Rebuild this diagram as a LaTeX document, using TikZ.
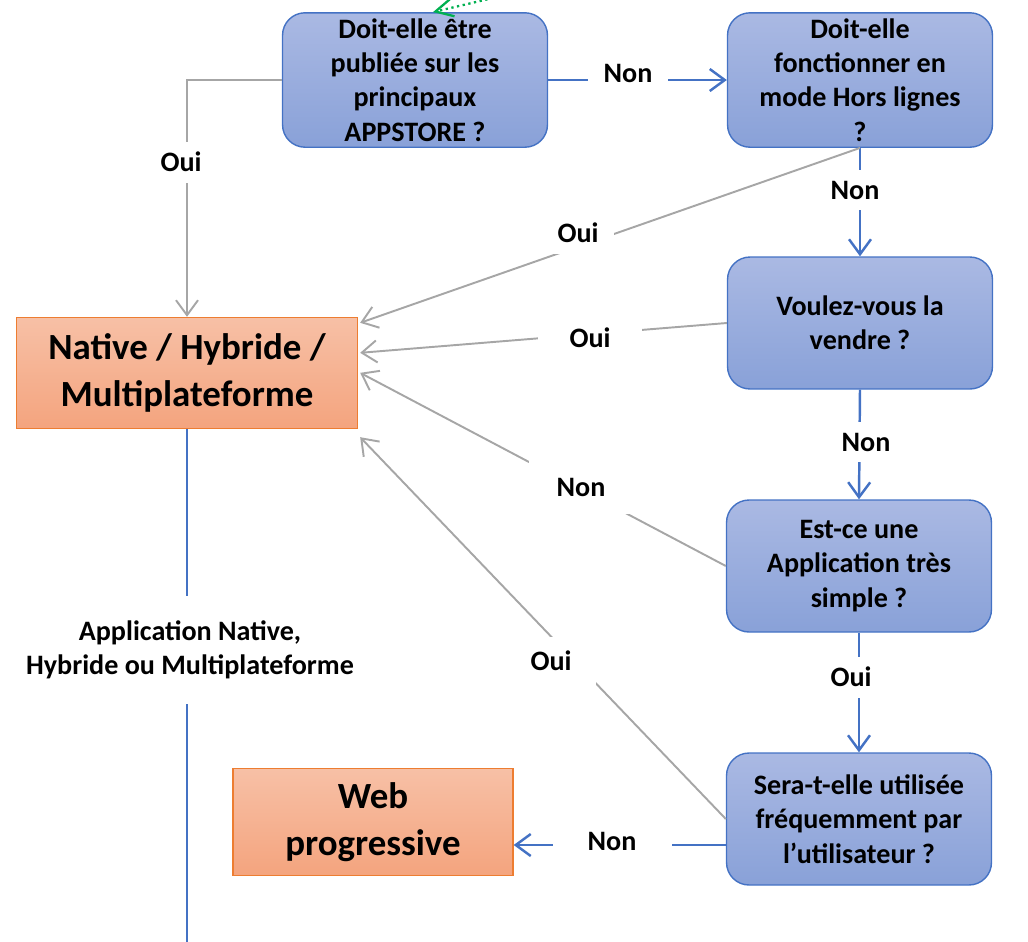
\documentclass[tikz,border=0pt]{standalone}
\usepackage{fontspec}
\setmainfont{Carlito}
\usepackage{tikz}
\usetikzlibrary{arrows.meta,calc}
\definecolor{questiontop}{RGB}{170,185,227}
\definecolor{questionbottom}{RGB}{137,161,216}
\definecolor{questionedge}{RGB}{68,114,196}
\definecolor{answertop}{RGB}{247,192,166}
\definecolor{answerbottom}{RGB}{244,164,126}
\definecolor{answeredge}{RGB}{237,125,49}
\definecolor{linkblue}{RGB}{68,114,196}
\definecolor{linkgray}{RGB}{166,166,166}
\definecolor{hintgreen}{RGB}{0,176,80}
\newcommand\boxfont{\fontsize{16}{19.5}\selectfont\bfseries}
\newcommand\bigfont{\fontsize{21}{26.5}\selectfont\bfseries}

\begin{document}
\begin{tikzpicture}[x=0.02cm, y=-0.02cm, >={Straight Barb[length=3mm,width=4.4mm]},
    question/.style={draw=questionedge, line width=0.8pt, rounded corners=0.45cm,
        top color=questiontop, bottom color=questionbottom,
        minimum width=5.3cm, minimum height=2.64cm, align=center, font=\boxfont},
    answer/.style={draw=answeredge, line width=0.8pt,
        top color=answertop, bottom color=answerbottom, align=center, font=\bigfont},
    bluelink/.style={draw=linkblue, line width=1.4pt},
    graylink/.style={draw=linkgray, line width=1.1pt},
    lbl/.style={fill=white, font=\boxfont, inner xsep=9pt, inner ysep=6pt}]
    % Frame
    \useasboundingbox (0,0) rectangle (1028,941);
    \clip (0,0) rectangle (1028,941);

    % Questions
    \node[question] (qstore) at (415,80) {Doit-elle être\\publiée sur les\\principaux\\APPSTORE ?};
    \node[question] (qoffline) at (860,80) {Doit-elle\\fonctionner en\\mode Hors lignes\\?};
    \node[question] (qsell) at (860,323) {Voulez-vous la\\vendre ?};
    \node[question] (qsimple) at (859,566) {Est-ce une\\Application très\\simple ?};
    \node[question] (qfreq) at (859,819) {Sera-t-elle utilisée\\fréquemment par\\l’utilisateur ?};

    % Answers
    \node[answer, minimum width=6.82cm, minimum height=2.22cm] (nat) at (187,373) {Native / Hybride /\\Multiplateforme};
    \node[answer, minimum width=5.6cm, minimum height=2.14cm] (web) at (373,822) {Web\\progressive};

    % Free ends
    \coordinate (greenstart) at (510,-6);
    \coordinate (bottomend) at (nat.south |- 0,950);
    \coordinate (efrom) at ($(qfreq.west)+(0,26)$);

    % Blue links
    \draw[bluelink,->] (qstore.east) -- (qoffline.west);
    \draw[bluelink,->] (qoffline.south) -- (qsell.north);
    \draw[bluelink,->] (qsell.south) -- (qsimple.north);
    \draw[bluelink,->] (qsimple.south) -- (qfreq.north);
    \draw[bluelink,->] (efrom) -- (efrom -| web.east);
    \draw[bluelink] (nat.south) -- (bottomend);

    % Gray links
    \draw[graylink,->] (qstore.west) -| (nat.north);
    \draw[graylink,->] (qoffline.south) -- ($(nat.north east)+(2,6)$);
    \draw[graylink,->] (qsell.west) -- ($(nat.north east)+(2,36)$);
    \draw[graylink,->] (qsimple.west) -- ($(nat.north east)+(2,56)$);
    \draw[graylink,->] (qfreq.west) -- ($(nat.south east)+(2,8)$);

    % Dotted hint
    \draw[hintgreen, line width=1.3pt, dotted, -{Straight Barb[length=3.5mm,width=3.6mm]}] (greenstart) -- ($(qstore.north)+(18,0)$);

    % Labels
    \node[lbl] (ouistore) at (181,162) {Oui};
    \node[lbl] (nonstore) at (628,73) {Non};
    \node[lbl] (nonoffline) at (855,190) {Non};
    \node[lbl] (ouioffline) at (578,233) {Oui};
    \node[lbl, inner xsep=18pt] (ouisell) at (590,338) {Oui};
    \node[lbl] (nonsell) at (866,442) {Non};
    \node[lbl, inner xsep=16pt, inner ysep=10pt] (nonsimple) at (581,487) {Non};
    \node[lbl] (ouisimple) at (851,677) {Oui};
    \node[lbl, inner xsep=14pt, inner ysep=8pt] (ouifreq) at (551,661) {Oui};
    \node[lbl, inner xsep=20pt] (nonfreq) at (612,841) {Non};
    \node[lbl, inner ysep=14pt, align=center] (appnative) at (190,650) {Application Native,\\Hybride ou Multiplateforme};
\end{tikzpicture}
\end{document}
